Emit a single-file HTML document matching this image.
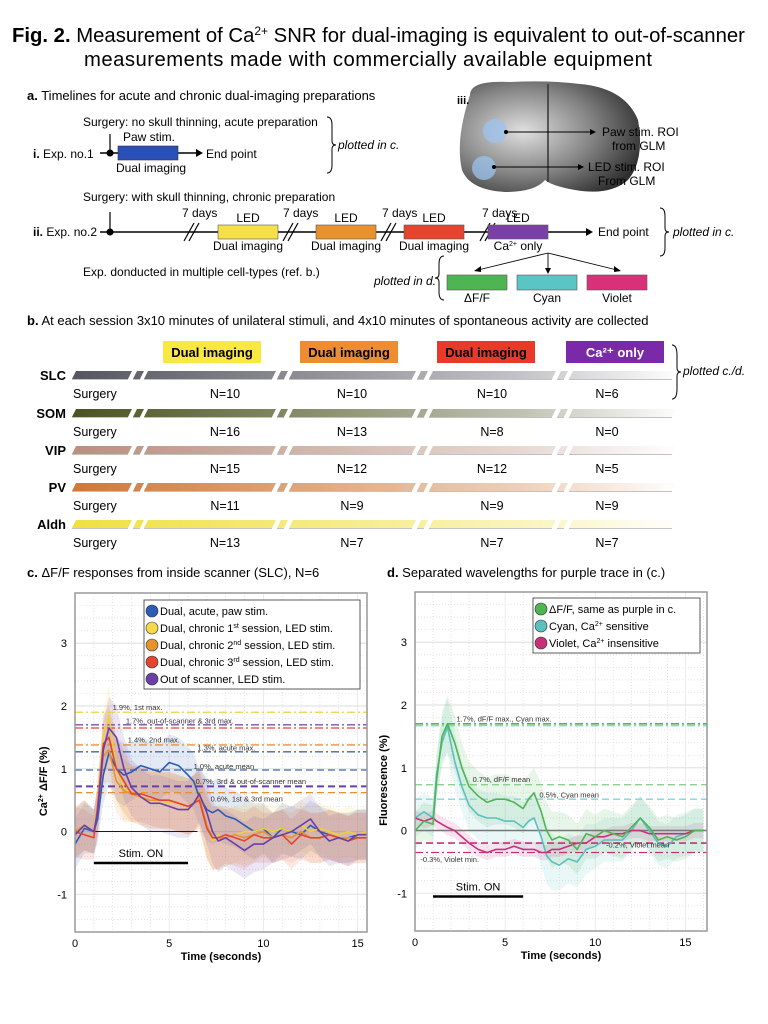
<!DOCTYPE html>
<html><head><meta charset="utf-8"><style>
html,body{margin:0;padding:0;background:#fff}
svg{display:block;font-family:"Liberation Sans",Arial,sans-serif}
</style></head><body>
<svg id="fig" width="768" height="1024" viewBox="0 0 768 1024">
<defs>
<radialGradient id="brainG" cx="0.35" cy="0.45" r="0.7"><stop offset="0" stop-color="#e0e0e0"/><stop offset="0.55" stop-color="#858585"/><stop offset="1" stop-color="#303030"/></radialGradient>
<clipPath id="clipC"><rect x="75" y="593" width="292" height="339"/></clipPath>
<clipPath id="clipD"><rect x="415" y="592" width="292" height="339"/></clipPath>
</defs>

<!-- Title -->
<text x="12" y="42" font-size="20.3"><tspan font-weight="bold">Fig. 2.</tspan> Measurement of Ca<tspan font-size="12" dy="-7">2+</tspan><tspan dy="7"> SNR for dual-imaging is equivalent to out-of-scanner</tspan></text>
<text x="84" y="66" font-size="20.3" textLength="568">measurements made with commercially available equipment</text>

<!-- Section a -->
<text x="27" y="100" font-size="13"><tspan font-weight="bold">a.</tspan> Timelines for acute and chronic dual-imaging preparations</text>
<g font-size="12">
<text x="83" y="126">Surgery: no skull thinning, acute preparation</text>
<text x="123" y="141">Paw stim.</text>
<text x="33" y="158"><tspan font-weight="bold">i.</tspan> Exp. no.1</text>
<line x1="110" y1="134" x2="110" y2="153" stroke="#000" stroke-width="1.2"/>
<line x1="100" y1="153" x2="196" y2="153" stroke="#000" stroke-width="1.5"/>
<polygon points="196,149 203,153 196,157" fill="#000"/>
<circle cx="110" cy="153" r="3.5" fill="#000"/>
<rect x="118" y="146" width="60" height="14" fill="#2a4fb8" stroke="#333" stroke-width="0.6"/>
<text x="206" y="158">End point</text>
<text x="116" y="172">Dual imaging</text>
<path d="M327,117 q5,0 5,8 v16 q0,4 4,4 q-4,0 -4,4 v16 q0,8 -5,8" fill="none" stroke="#000" stroke-width="1"/>
<text x="338" y="149" font-style="italic">plotted in c.</text>
</g>
<g>
<path d="M470,95 Q470,80 510,82 Q548,80 580,84 Q625,88 638,120 Q645,160 628,180 Q610,196 575,190 Q552,186 545,180 Q535,192 505,192 Q470,190 462,170 Q455,140 470,95 Z" fill="url(#brainG)"/>
<line x1="548" y1="84" x2="548" y2="182" stroke="#333" stroke-width="1.5"/>
<circle cx="495" cy="131" r="12" fill="#9cc3ef" opacity="0.75"/>
<circle cx="484" cy="168" r="12" fill="#9cc3ef" opacity="0.75"/>
<circle cx="506" cy="132" r="2" fill="#000"/><line x1="506" y1="132" x2="590" y2="132" stroke="#000"/><polygon points="590,129 596,132 590,135"/>
<circle cx="494" cy="167" r="2" fill="#000"/><line x1="494" y1="167" x2="578" y2="167" stroke="#000"/><polygon points="578,164 584,167 578,170"/>
<text x="457" y="104" font-size="11" font-weight="bold" fill="#000">iii.</text>
<text x="602" y="136" font-size="12">Paw stim. ROI</text><text x="612" y="150" font-size="12">from GLM</text>
<text x="588" y="171" font-size="12">LED stim. ROI</text><text x="598" y="185" font-size="12">From GLM</text>
</g>
<g font-size="12">
<text x="83" y="201">Surgery: with skull thinning, chronic preparation</text>
<text x="33" y="236"><tspan font-weight="bold">ii.</tspan> Exp. no.2</text>
<line x1="110" y1="212" x2="110" y2="232" stroke="#000" stroke-width="1.2"/>
<line x1="100" y1="232" x2="586" y2="232" stroke="#000" stroke-width="1.5"/>
<polygon points="586,228 593,232 586,236" fill="#000"/>
<circle cx="110" cy="232" r="3.5" fill="#000"/>
<g stroke="#000" stroke-width="1.2"><line x1="184" y1="241" x2="194" y2="223"/><line x1="189" y1="241" x2="199" y2="223"/><line x1="283" y1="241" x2="293" y2="223"/><line x1="288" y1="241" x2="298" y2="223"/><line x1="381" y1="241" x2="391" y2="223"/><line x1="386" y1="241" x2="396" y2="223"/><line x1="480" y1="241" x2="490" y2="223"/><line x1="485" y1="241" x2="495" y2="223"/></g>
<text x="182" y="217">7 days</text><text x="283" y="217">7 days</text><text x="382" y="217">7 days</text><text x="482" y="217">7 days</text>
<rect x="218" y="225" width="60" height="14" fill="#f5e04a" stroke="#555" stroke-width="0.6"/>
<rect x="316" y="225" width="60" height="14" fill="#e8922e" stroke="#555" stroke-width="0.6"/>
<rect x="404" y="225" width="60" height="14" fill="#e5452f" stroke="#555" stroke-width="0.6"/>
<rect x="488" y="225" width="60" height="14" fill="#7a40a8" stroke="#555" stroke-width="0.6"/>
<text x="248" y="222" text-anchor="middle">LED</text><text x="346" y="222" text-anchor="middle">LED</text><text x="434" y="222" text-anchor="middle">LED</text><text x="518" y="222" text-anchor="middle">LED</text>
<text x="248" y="250" text-anchor="middle">Dual imaging</text><text x="346" y="250" text-anchor="middle">Dual imaging</text><text x="434" y="250" text-anchor="middle">Dual imaging</text>
<text x="518" y="250" text-anchor="middle">Ca<tspan font-size="7" dy="-4">2+</tspan><tspan dy="4"> only</tspan></text>
<text x="598" y="236">End point</text>
<path d="M660,208 q5,0 5,8 v12 q0,4 4,4 q-4,0 -4,4 v12 q0,8 -5,8" fill="none" stroke="#000" stroke-width="1"/>
<text x="673" y="236" font-style="italic">plotted in c.</text>
<text x="83" y="276">Exp. donducted in multiple cell-types (ref. b.)</text>
<text x="374" y="285" font-style="italic">plotted in d.</text>
<path d="M444,256 q-5,0 -5,8 v10 q0,4 -4,4 q4,0 4,4 v10 q0,8 5,8" fill="none" stroke="#000" stroke-width="1"/>
<g stroke="#000" stroke-width="0.9"><line x1="548" y1="253" x2="478" y2="270"/><line x1="548" y1="253" x2="548" y2="270"/><line x1="548" y1="253" x2="617" y2="270"/></g>
<polygon points="474,271 481,266 481,272"/><polygon points="545,268 551,268 548,274"/><polygon points="621,271 614,266 614,272"/>
<rect x="447" y="275" width="60" height="15" fill="#4fb552" stroke="#555" stroke-width="0.6"/>
<rect x="517" y="275" width="60" height="15" fill="#5bc4c4" stroke="#555" stroke-width="0.6"/>
<rect x="587" y="275" width="60" height="15" fill="#d9307a" stroke="#555" stroke-width="0.6"/>
<text x="477" y="302" text-anchor="middle">ΔF/F</text><text x="547" y="302" text-anchor="middle">Cyan</text><text x="617" y="302" text-anchor="middle">Violet</text>
</g>

<!-- Section b -->
<text x="27" y="325" font-size="13"><tspan font-weight="bold">b.</tspan> At each session 3x10 minutes of unilateral stimuli, and 4x10 minutes of spontaneous activity are collected</text>
<g id="tableB"></g>

<!-- Section c -->
<text x="27" y="577" font-size="13"><tspan font-weight="bold">c.</tspan> ΔF/F responses from inside scanner (SLC), N=6</text>
<g id="chartC"></g>
<!-- Section d -->
<text x="387" y="577" font-size="13"><tspan font-weight="bold">d.</tspan> Separated wavelengths for purple trace in (c.)</text>
<g id="chartD"></g>
</svg>
<script>
// ---- data ----
const rowLabels = ['SLC','SOM','VIP','PV','Aldh'];
const rowColors = ['#55555f','#4a5220','#b89080','#d07838','#f0e040'];
const nValues = [[10,10,10,6],[16,13,8,0],[15,12,12,5],[11,9,9,9],[13,7,7,7]];
const times = [0,0.5,1,1.2,1.5,1.8,2.2,2.6,3,3.5,4,4.5,5,5.5,6,6.3,6.6,7,7.3,7.6,8,8.5,9,9.5,10,10.5,11,11.5,12,12.5,13,13.5,14,14.5,15,15.5,16];
const blueAcute = [-0.2,0.05,0.0,0.2,0.9,1.25,1.0,0.9,0.95,1.05,1.0,0.95,1.1,1.05,0.9,0.8,0.55,0.35,0.3,0.35,0.25,0.2,0.1,0,0.05,-0.1,0.05,0,-0.05,0.1,0,-0.05,-0.1,-0.1,-0.05,-0.05,-0.05];
const yellow1st = [0,0.1,0,0.4,1.5,1.85,1.0,0.7,0.6,0.55,0.5,0.5,0.45,0.45,0.4,0.45,0.5,0.1,-0.15,-0.05,-0.1,-0.05,0,0,0.05,0,0.05,0,0.1,0,0.05,0,-0.05,0,-0.05,0,0];
const orange2nd = [0,0.1,0,0.3,1.2,1.3,0.8,0.65,0.6,0.55,0.5,0.5,0.5,0.45,0.4,0.45,0.55,0.1,-0.1,-0.1,-0.1,-0.05,-0.1,-0.05,0,-0.1,-0.05,-0.1,0,-0.1,-0.1,-0.05,-0.1,-0.1,-0.1,-0.1,-0.1];
const red3rd = [0,-0.05,-0.1,0.4,1.4,1.5,1.0,0.8,0.6,0.6,0.55,0.5,0.5,0.45,0.4,0.45,0.5,0.05,-0.1,-0.1,-0.05,-0.1,-0.15,-0.05,-0.1,-0.1,-0.05,-0.2,-0.05,-0.1,-0.1,-0.05,-0.1,-0.15,-0.1,-0.1,-0.1];
const purpleOut = [-0.05,0.1,0,0.3,1.3,1.65,1.5,1.0,0.7,0.55,0.45,0.45,0.4,0.35,0.35,0.45,0.6,0.3,0,-0.15,-0.1,-0.2,-0.3,-0.2,-0.2,-0.1,-0.05,0,0.1,0.2,0,-0.15,-0.1,-0.15,-0.05,-0.05,-0.05];
const bandC = [0.4,0.4,0.35,0.4,0.45,0.5,0.5,0.5,0.45,0.45,0.45,0.45,0.45,0.45,0.45,0.45,0.45,0.5,0.5,0.5,0.45,0.45,0.45,0.45,0.4,0.4,0.4,0.4,0.4,0.4,0.4,0.4,0.4,0.4,0.4,0.4,0.4];
const greenDff = [0,0.15,0.1,0.8,1.5,1.7,1.4,1.0,0.7,0.55,0.45,0.5,0.5,0.45,0.35,0.5,0.6,0.3,0,-0.15,-0.1,-0.15,-0.3,-0.05,-0.1,0,-0.05,-0.1,0.05,0.2,0.05,-0.15,-0.1,-0.15,-0.1,0,0];
const cyanSens = [0.2,0.3,0.2,0.9,1.4,1.65,1.1,0.7,0.4,0.25,0.2,0.2,0.15,0.15,0.05,0.15,0.2,-0.1,-0.4,-0.5,-0.55,-0.45,-0.5,-0.3,-0.25,-0.15,-0.15,-0.15,0,0.2,0,-0.2,-0.25,-0.1,-0.05,0,0];
const violetIns = [0.2,0.15,0.2,0.15,0.1,0.05,0,-0.1,-0.2,-0.3,-0.35,-0.3,-0.3,-0.25,-0.3,-0.3,-0.3,-0.35,-0.35,-0.3,-0.3,-0.25,-0.2,-0.2,-0.1,-0.1,-0.05,-0.05,0,0,-0.05,-0.05,-0.05,-0.05,-0.05,0,0];
const bandD = [0.3,0.3,0.3,0.35,0.4,0.45,0.45,0.4,0.4,0.4,0.4,0.4,0.4,0.4,0.4,0.4,0.4,0.45,0.45,0.45,0.4,0.4,0.4,0.4,0.35,0.35,0.35,0.35,0.35,0.35,0.35,0.35,0.35,0.35,0.35,0.35,0.35];
const bandViolet = [0.12,0.12,0.12,0.12,0.12,0.12,0.12,0.12,0.12,0.12,0.12,0.12,0.12,0.12,0.12,0.12,0.12,0.12,0.12,0.12,0.12,0.12,0.12,0.12,0.12,0.12,0.12,0.12,0.12,0.12,0.12,0.12,0.12,0.12,0.12,0.12,0.12];
const yTicks = [-1,0,1,2,3];
const xTicks = [0,5,10,15];
const refValuesC = [1.9,1.7,1.65,1.38,1.27,0.98,0.72,0.62];
const refValuesD = [1.7,1.67,0.73,0.5,-0.2,-0.35];

const NS='http://www.w3.org/2000/svg';
function mk(tag,attrs,parent){const e=document.createElementNS(NS,tag);for(const k in attrs)e.setAttribute(k,attrs[k]);if(parent)parent.appendChild(e);return e;}

// ---- table b ----
(function(){
  const g=document.getElementById('tableB');
  const hdr=[['Dual imaging','#f8e840','#000',163],['Dual imaging','#ee8c30','#000',300],['Dual imaging','#e8392a','#000',437],['Ca²⁺ only','#7a2aa8','#fff',566]];
  hdr.forEach(h=>{
    const r=mk('rect',{x:h[3],y:341,width:98,height:22,fill:h[1]},g);
    
    
    const t=mk('text',{x:h[3]+49,y:357,'font-size':13,'font-weight':'bold','text-anchor':'middle',fill:h[2]},g);t.textContent=h[0];
  });
  const segs=[[72,128],[133,140],[144,272],[277,284],[289,412],[417,424],[429,552],[557,564],[569,672]];
  const rowY=[371,409,446,483,520];
  const nCols=[225,352,492,607];
  rowLabels.forEach((lab,i)=>{
    const y=rowY[i];
    const gid='rg'+i;
    const lg=mk('linearGradient',{id:gid,x1:0,x2:1,y1:0,y2:0,gradientUnits:'userSpaceOnUse'},g);
    lg.setAttribute('x1',72);lg.setAttribute('x2',672);
    mk('stop',{offset:0,'stop-color':rowColors[i],'stop-opacity':1},lg);
    mk('stop',{offset:0.75,'stop-color':rowColors[i],'stop-opacity':0.35},lg);
    mk('stop',{offset:1,'stop-color':rowColors[i],'stop-opacity':0.02},lg);
    segs.forEach(s=>{
      const p=mk('polygon',{points:`${s[0]+4},${y} ${s[1]+4},${y} ${s[1]},${y+8} ${s[0]},${y+8}`,fill:`url(#${gid})`},g);
      
      
      mk('line',{x1:s[0],y1:y+8.5,x2:s[1],y2:y+8.5,stroke:'#999','stroke-width':1,'stroke-opacity':0.6},g);
    });
    const t=mk('text',{x:66,y:y+9,'font-size':13,'font-weight':'bold','text-anchor':'end'},g);t.textContent=lab;
    
    
    const s=mk('text',{x:73,y:y+27,'font-size':12.5},g);s.textContent='Surgery';
    nValues[i].forEach((n,j)=>{const tt=mk('text',{x:nCols[j],y:y+27,'font-size':12.5,'text-anchor':'middle'},g);tt.textContent='N='+n;
      
      });
  });
  mk('path',{d:'M672,345 q5,0 5,10 v13 q0,4 4,4 q-4,0 -4,4 v13 q0,10 -5,10',fill:'none',stroke:'#000','stroke-width':1},g);
  const pt=mk('text',{x:683,y:375,'font-size':12,'font-style':'italic'},g);pt.textContent='plotted c./d.';
})();

// ---- charts ----
function chart(gid,box,xMax,yMin,yMax,clip,series,refs,annots,ylabel,zeroFull,stimY){
  const g=document.getElementById(gid);
  const X=v=>box.x+(v/xMax)*box.w;
  const Y=v=>box.y+box.h-(v-yMin)/(yMax-yMin)*box.h;
  mk('rect',{x:box.x,y:box.y,width:box.w,height:box.h,fill:'#fff'},g);
  for(let v=Math.ceil(yMin*5)/5;v<=yMax;v+=0.2){const yy=Y(v);mk('line',{x1:box.x,x2:box.x+box.w,y1:yy,y2:yy,stroke:Math.abs(v-Math.round(v))<0.01?'#e4e4e4':'#d8d8d8','stroke-width':Math.abs(v-Math.round(v))<0.01?1.2:0.7,'stroke-dasharray':Math.abs(v-Math.round(v))<0.01?'':'1,2'},g);}
  for(let v=1;v<xMax;v+=1){const xx=X(v);mk('line',{x1:xx,x2:xx,y1:box.y,y2:box.y+box.h,stroke:v%5===0?'#e4e4e4':'#d8d8d8','stroke-width':0.7,'stroke-dasharray':v%5===0?'':'1,2'},g);}
  const cg=mk('g',{'clip-path':`url(#${clip})`},g);
  series.forEach(s=>{
    let up='',dn='';
    times.forEach((t,i)=>{up+=(i?'L':'M')+X(t).toFixed(1)+','+Y(s.v[i]+s.b[i]).toFixed(1);});
    for(let i=times.length-1;i>=0;i--)dn+='L'+X(times[i]).toFixed(1)+','+Y(s.v[i]-s.b[i]).toFixed(1);
    const band=mk('path',{d:up+dn+'Z',fill:s.c,'fill-opacity':0.13},cg);
    
    
  });
  mk('line',{x1:zeroFull?box.x:X(1),x2:zeroFull?box.x+box.w:X(6.5),y1:Y(0),y2:Y(0),stroke:zeroFull?'#777':'#000','stroke-width':zeroFull?1.5:0.8},cg);
  refs.forEach(r=>{
    const l=mk('line',{x1:box.x,x2:box.x+box.w,y1:Y(r.v),y2:Y(r.v),stroke:r.c,'stroke-width':r.w||1.3,'stroke-dasharray':r.d?'8,3,2,3':'7,4'},cg);
    
    
  });
  series.forEach(s=>{
    let d='';times.forEach((t,i)=>{d+=(i?'L':'M')+X(t).toFixed(1)+','+Y(s.v[i]).toFixed(1);});
    const p=mk('path',{d:d,fill:'none',stroke:s.c,'stroke-width':1.6,'stroke-linejoin':'round'},cg);
    
    
  });
  annots.forEach(a=>{const t=mk('text',{x:X(a.x),y:Y(a.y),'font-size':7.5,fill:'#333'},g);t.textContent=a.t;});
  mk('line',{x1:X(1),x2:X(6),y1:Y(stimY),y2:Y(stimY),stroke:'#000','stroke-width':2.5},g);
  const so=mk('text',{x:X(3.5),y:Y(stimY)-6,'font-size':11,'text-anchor':'middle'},g);so.textContent='Stim. ON';
  mk('rect',{x:box.x,y:box.y,width:box.w,height:box.h,fill:'none',stroke:'#999','stroke-width':1.5},g);
  yTicks.forEach(v=>{const t=mk('text',{x:box.x-8,y:Y(v)+4,'font-size':11,'text-anchor':'end'},g);t.textContent=v;});
  xTicks.forEach(v=>{const t=mk('text',{x:X(v),y:box.y+box.h+15,'font-size':11,'text-anchor':'middle'},g);t.textContent=v;});
  const xl=mk('text',{x:box.x+box.w/2,y:box.y+box.h+28,'font-size':11,'font-weight':'bold','text-anchor':'middle'},g);xl.textContent='Time (seconds)';
  
  
  const yl=mk('text',{transform:`translate(${box.x-28},${Y(0.8)}) rotate(-90)`,'font-size':11,'font-weight':'bold','text-anchor':'middle'},g);yl.innerHTML=ylabel;
  
  
  return {g,X,Y};
}
function legend(g,x,y,w,items){
  const h=items.length*17+4;
  mk('rect',{x:x,y:y,width:w,height:h,fill:'#fff',stroke:'#333','stroke-width':0.8},g);
  items.forEach((it,i)=>{
    const e=mk('circle',{cx:x+8,cy:y+11+i*17,r:6,fill:it.c,stroke:'#333','stroke-width':0.6},g);
    
    
    const t=mk('text',{x:x+16,y:y+15+i*17,'font-size':11},g);t.innerHTML=it.t;
  });
}
const sup=s=>`<tspan font-size="7" dy="-4">${s}</tspan><tspan dy="4">`;
const C=chart('chartC',{x:75,y:593,w:292,h:339},15.5,-1.6,3.8,'clipC',
 [{n:'blue-acute',c:'#2a5cb8',v:blueAcute,b:bandC},{n:'yellow-1st',c:'#f0cf3a',v:yellow1st,b:bandC},{n:'orange-2nd',c:'#e8922e',v:orange2nd,b:bandC},{n:'red-3rd',c:'#e5452f',v:red3rd,b:bandC},{n:'purple-out',c:'#6a3fa8',v:purpleOut,b:bandC}],
 [{v:refValuesC[0],c:'#f0d040',d:1},{v:refValuesC[1],c:'#7a50b0',d:1},{v:refValuesC[2],c:'#e5452f',d:1},{v:refValuesC[3],c:'#e8922e',d:1},{v:refValuesC[4],c:'#3a6ab8',d:1},{v:refValuesC[5],c:'#3a6ab8'},{v:refValuesC[6],c:'#6a3fa8',w:2},{v:refValuesC[7],c:'#e8922e'}],
 [{x:2,y:1.94,t:'1.9%, 1st max.'},{x:2.7,y:1.72,t:'1.7%, out-of-scanner & 3rd max.'},{x:2.8,y:1.42,t:'1.4%, 2nd max.'},{x:6.5,y:1.29,t:'1.3%, acute max.'},{x:6.3,y:1.0,t:'1.0%, acute mean'},{x:6.4,y:0.76,t:'0.7%, 3rd & out-of-scanner mean'},{x:7.2,y:0.48,t:'0.6%, 1st & 3rd mean'}],
 'Ca<tspan font-size="7" dy="-4">2+</tspan><tspan dy="4"> ΔF/F (%)</tspan>',false,-0.5);
legend(C.g,144,600,216,[{c:'#2a5cb8',t:'Dual, acute, paw stim.'},{c:'#f5d94a',t:'Dual, chronic 1'+sup('st')+' session, LED stim.</tspan>'},{c:'#e8922e',t:'Dual, chronic 2'+sup('nd')+' session, LED stim.</tspan>'},{c:'#e5452f',t:'Dual, chronic 3'+sup('rd')+' session, LED stim.</tspan>'},{c:'#6a3fa8',t:'Out of scanner, LED stim.'}]);
const D=chart('chartD',{x:415,y:592,w:292,h:339},16.2,-1.6,3.8,'clipD',
 [{n:'cyan',c:'#5bbfc0',v:cyanSens,b:bandD},{n:'violet',c:'#c8307a',v:violetIns,b:bandViolet},{n:'green-dff',c:'#4fb552',v:greenDff,b:bandD}],
 [{v:refValuesD[0],c:'#4fb552',d:1,w:1.6},{v:refValuesD[1],c:'#7ccfd0',d:1},{v:refValuesD[2],c:'#7ccc80'},{v:refValuesD[3],c:'#8ad2d4'},{v:refValuesD[4],c:'#c8307a',w:1.6},{v:refValuesD[5],c:'#c8307a',d:1}],
 [{x:2.3,y:1.74,t:'1.7%, dF/F max., Cyan max.'},{x:3.2,y:0.77,t:'0.7%, dF/F mean'},{x:6.9,y:0.53,t:'0.5%, Cyan mean'},{x:10.6,y:-0.27,t:'-0.2%, Violet mean'},{x:0.3,y:-0.5,t:'-0.3%, Violet min.'}],
 'Fluorescence (%)',true,-1.05);
legend(D.g,533,598,167,[{c:'#4fb552',t:'ΔF/F, same as purple in c.'},{c:'#5bbfc0',t:'Cyan, Ca'+sup('2+')+' sensitive</tspan>'},{c:'#c8307a',t:'Violet, Ca'+sup('2+')+' insensitive</tspan>'}]);
</script>
</body></html>
